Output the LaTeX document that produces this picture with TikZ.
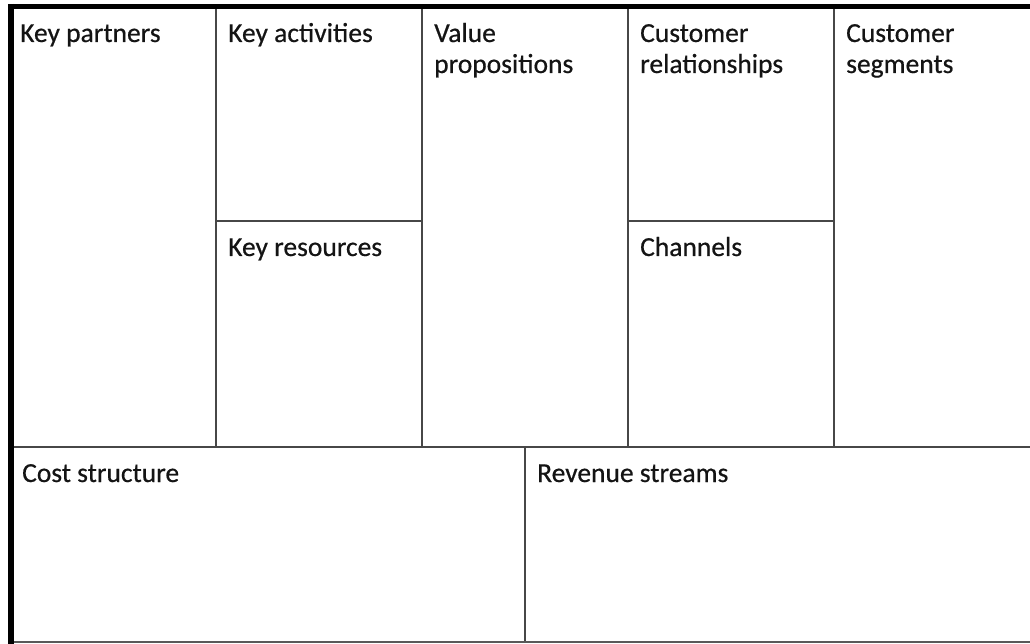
\documentclass[tikz,border=0pt]{standalone}
\usepackage{fontspec}
\setmainfont{Carlito}[FakeBold=0.5]
\tikzset{
  grid/.style={draw=black!72, line width=2pt},
  frame/.style={draw=black, line width=5.5pt},
  label/.style={anchor=base west, inner sep=0pt, text=black!92,
    font=\fontsize{27.5}{31}\selectfont},
}
\newcommand{\cell}[1]{\renewcommand{\arraystretch}{1}\begin{tabular}[t]{@{}l@{}}#1\end{tabular}}
\begin{document}
\begin{tikzpicture}[x=1pt,y=-1pt]
\useasboundingbox (0,0) rectangle (1030,644);
\fill[white] (0,0) rectangle (1030,644);
% inner grid
\draw[grid] (216,7) -- (216,447);
\draw[grid] (422,7) -- (422,447);
\draw[grid] (628,7) -- (628,447);
\draw[grid] (834,7) -- (834,447);
\draw[grid] (216,221) -- (422,221);
\draw[grid] (628,221) -- (834,221);
\draw[grid] (11,447) -- (1030,447);
\draw[grid] (525,447) -- (525,642);
\draw[draw=black!65, line width=2.5pt] (8,642) -- (1030,642);
% outer frame
\draw[frame] (8,6.5) -- (1030,6.5);
\draw[draw=black, line width=6pt] (11,4) -- (11,644);
% labels
\node[label] (kp) at (20,42) {\cell{Key partners}};
\node[label] (ka) at (228,42) {\cell{Key activities}};
\node[label] (vp) at (434,42) {\cell{Value\\propositions}};
\node[label] (cr) at (640,42) {\cell{Customer\\relationships}};
\node[label] (cs) at (846,42) {\cell{Customer\\segments}};
\node[label] (kr) at (228,256) {\cell{Key resources}};
\node[label] (ch) at (640,256) {\cell{Channels}};
\node[label] (co) at (22,482) {\cell{Cost structure}};
\node[label] (rs) at (537,482) {\cell{Revenue streams}};
\end{tikzpicture}
\end{document}
